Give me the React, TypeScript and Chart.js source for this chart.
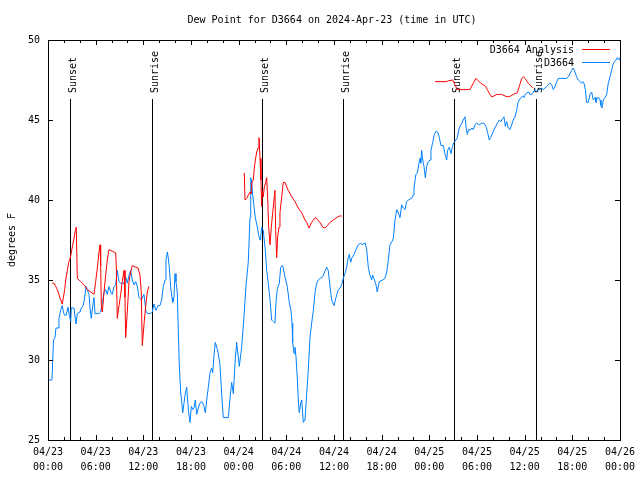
import React, { useEffect, useRef } from "react";
import { Chart, registerables } from "chart.js";

Chart.register(...registerables);

const chartTitle = "Dew Point for D3664 on 2024-Apr-23 (time in UTC)";
const yAxisTitle = "degrees F";
const seriesNames = ["D3664 Analysis", "D3664"];
const seriesColors = ["rgb(255,0,0)", "rgb(0,128,255)"];

// x in hours since 2024-04-23 00:00 UTC
const xTickDates = ["04/23", "04/23", "04/23", "04/23", "04/24", "04/24", "04/24", "04/24", "04/25", "04/25", "04/25", "04/25", "04/26"];
const xTickTimes = ["00:00", "06:00", "12:00", "18:00", "00:00", "06:00", "12:00", "18:00", "00:00", "06:00", "12:00", "18:00", "00:00"];

const sunHours = [2.81, 13.13, 26.98, 37.18, 51.15, 61.39];
const sunLabels = ["Sunset", "Sunrise", "Sunset", "Sunrise", "Sunset", "Sunrise"];

const obsHours = [0.0, 0.5, 0.69, 0.88, 1.0, 1.26, 1.38, 1.51, 1.67, 1.8, 1.93, 2.1, 2.3, 2.52, 2.68, 2.86, 2.93, 3.27, 3.52, 3.69, 4.03, 4.19, 4.44, 4.62, 4.78, 4.95, 5.16, 5.29, 5.45, 5.63, 5.79, 5.92, 6.0, 6.42, 6.63, 6.84, 7.05, 7.26, 7.46, 7.68, 7.89, 8.09, 8.31, 8.52, 8.72, 8.94, 9.15, 9.57, 9.78, 9.98, 10.2, 10.41, 10.61, 10.83, 11.04, 11.24, 11.46, 11.74, 12.08, 12.34, 12.59, 12.93, 13.13, 13.34, 13.6, 13.85, 14.1, 14.31, 14.51, 14.73, 14.85, 15.02, 15.14, 15.27, 15.45, 15.61, 15.7, 15.86, 15.99, 16.11, 16.28, 16.4, 16.53, 16.7, 16.83, 16.96, 17.12, 17.28, 17.46, 17.54, 17.71, 17.88, 18.04, 18.22, 18.38, 18.54, 18.72, 18.92, 19.13, 19.39, 19.64, 19.8, 19.98, 20.18, 20.39, 20.61, 20.73, 20.9, 21.06, 21.24, 21.44, 21.65, 21.87, 22.07, 22.7, 22.91, 23.12, 23.33, 23.54, 23.75, 24.08, 24.38, 24.67, 24.92, 25.21, 25.43, 25.52, 25.64, 25.77, 25.93, 26.1, 26.35, 26.52, 26.69, 26.78, 26.9, 27.1, 27.35, 27.53, 27.73, 27.95, 28.16, 28.36, 28.57, 28.7, 28.86, 29.12, 29.29, 29.54, 29.83, 30.12, 30.37, 30.59, 30.72, 30.8, 30.97, 31.09, 31.22, 31.38, 31.51, 31.63, 31.81, 31.94, 32.14, 32.35, 32.57, 32.77, 32.98, 33.19, 33.4, 33.61, 33.82, 34.02, 34.24, 34.58, 34.83, 35.08, 35.28, 35.5, 35.71, 36.0, 36.25, 36.54, 36.76, 36.97, 37.17, 37.39, 37.6, 37.8, 37.93, 38.1, 38.27, 38.52, 38.77, 39.06, 39.36, 39.53, 39.78, 39.94, 40.12, 40.32, 40.53, 40.75, 40.87, 41.04, 41.29, 41.45, 41.7, 42.13, 42.42, 42.64, 42.84, 43.05, 43.3, 43.47, 43.68, 43.9, 44.1, 44.31, 44.52, 44.73, 44.94, 45.15, 45.35, 45.78, 45.98, 46.07, 46.32, 46.49, 46.7, 46.83, 46.92, 47.04, 47.17, 47.33, 47.5, 47.67, 47.87, 48.09, 48.21, 48.43, 48.63, 48.84, 49.06, 49.26, 49.47, 49.76, 49.97, 50.19, 50.31, 50.52, 50.73, 50.94, 51.11, 51.36, 51.52, 51.77, 52.08, 52.28, 52.49, 52.62, 52.78, 52.96, 53.21, 53.37, 53.54, 53.75, 53.97, 54.29, 54.6, 54.88, 55.14, 55.35, 55.55, 55.73, 55.98, 56.27, 56.56, 56.81, 57.02, 57.24, 57.4, 57.57, 57.74, 57.94, 58.16, 58.37, 58.57, 58.79, 59.0, 59.16, 59.33, 59.54, 59.76, 59.92, 60.08, 60.26, 60.51, 60.67, 60.89, 61.09, 61.3, 61.52, 61.77, 61.93, 62.15, 62.35, 62.56, 62.78, 62.98, 63.19, 63.41, 63.61, 63.82, 64.04, 64.24, 65.29, 65.5, 65.71, 65.92, 66.13, 66.34, 66.55, 66.75, 66.97, 67.18, 67.31, 67.47, 67.64, 67.81, 68.01, 68.23, 68.44, 68.64, 68.86, 68.98, 69.15, 69.32, 69.49, 69.61, 69.74, 69.9, 70.12, 70.33, 70.53, 70.75, 70.96, 71.08, 71.25, 71.5, 71.67, 71.88, 72.0];
const obsValues = [28.75, 28.75, 31.25, 31.4, 32.0, 32.0, 32.6, 32.9, 33.25, 33.4, 33.0, 32.8, 32.8, 33.3, 32.8, 32.4, 33.25, 33.25, 32.25, 32.9, 33.0, 33.25, 33.4, 33.9, 34.6, 34.4, 34.1, 33.25, 32.6, 33.4, 33.9, 32.9, 32.9, 32.9, 33.0, 33.6, 34.2, 34.4, 34.1, 34.6, 34.25, 34.1, 34.6, 34.7, 35.6, 34.9, 34.8, 34.8, 35.2, 34.8, 35.3, 35.6, 35.0, 34.7, 34.9, 34.6, 33.9, 33.75, 34.1, 33.0, 32.9, 32.9, 33.0, 33.5, 33.1, 33.4, 33.4, 33.75, 34.6, 35.0, 36.25, 36.75, 36.4, 35.8, 34.5, 33.9, 33.6, 33.9, 35.4, 34.9, 34.2, 31.9, 29.7, 28.0, 27.4, 26.7, 27.3, 27.9, 28.3, 27.7, 26.7, 26.1, 27.1, 26.9, 27.0, 27.5, 26.6, 27.0, 27.3, 27.4, 27.1, 26.7, 27.5, 28.3, 29.2, 29.5, 29.2, 30.3, 31.1, 30.8, 30.4, 29.7, 27.8, 26.4, 26.4, 27.6, 28.6, 27.9, 29.8, 31.1, 29.6, 30.8, 32.7, 34.6, 36.1, 38.9, 41.4, 41.1, 40.3, 39.6, 38.9, 38.3, 37.8, 37.5, 37.7, 38.3, 38.1, 36.9, 35.6, 34.8, 33.75, 32.5, 32.4, 32.3, 33.6, 34.4, 34.8, 35.8, 35.9, 35.2, 34.6, 33.6, 33.1, 32.3, 31.1, 30.4, 30.8, 30.2, 28.9, 27.5, 26.7, 27.3, 27.5, 26.1, 26.25, 27.9, 29.4, 31.4, 32.3, 33.1, 34.2, 34.8, 35.0, 35.1, 35.2, 35.5, 35.8, 35.6, 34.6, 33.75, 33.4, 33.9, 34.4, 34.5, 34.7, 35.1, 35.4, 35.8, 36.4, 36.6, 36.1, 36.4, 36.6, 36.9, 37.2, 37.3, 37.2, 37.3, 37.3, 36.9, 35.8, 35.3, 35.0, 35.3, 35.1, 34.7, 34.25, 34.9, 35.0, 35.1, 35.5, 36.25, 37.2, 37.4, 37.6, 38.75, 39.4, 39.2, 38.9, 39.7, 39.5, 39.4, 39.9, 40.0, 40.1, 40.3, 40.75, 41.6, 41.7, 42.3, 42.6, 42.3, 43.1, 42.5, 42.1, 41.4, 42.1, 42.4, 42.5, 43.1, 43.6, 44.1, 44.3, 44.25, 43.9, 43.4, 43.4, 42.9, 42.5, 43.1, 43.3, 42.9, 43.4, 43.6, 43.75, 43.9, 44.5, 44.8, 45.0, 45.2, 44.6, 44.1, 44.4, 44.4, 44.5, 44.4, 44.7, 44.8, 44.7, 44.8, 44.8, 44.6, 44.2, 43.75, 43.9, 44.2, 44.5, 44.8, 45.0, 44.9, 45.1, 45.2, 44.6, 44.9, 44.5, 44.4, 44.7, 45.0, 45.2, 45.6, 46.1, 46.25, 46.4, 46.5, 46.4, 46.6, 46.7, 46.75, 46.6, 46.6, 46.75, 46.9, 46.8, 46.9, 46.9, 47.0, 46.9, 47.0, 47.1, 47.2, 47.3, 47.2, 46.9, 47.1, 47.4, 47.6, 47.6, 47.7, 47.9, 48.1, 48.25, 48.0, 47.7, 47.5, 47.4, 47.3, 47.4, 47.3, 46.9, 46.1, 46.1, 46.6, 46.75, 46.25, 46.4, 46.1, 46.4, 46.4, 46.25, 45.9, 45.75, 46.25, 46.4, 46.6, 47.3, 47.7, 48.1, 48.4, 48.6, 48.75, 48.9, 48.75, 48.9];

// analysis series; null marks a gap between the three runs
const anaHours = [0.54, 0.76, 0.97, 1.17, 1.38, 1.6, 1.8, 1.93, 2.1, 2.23, 2.43, 2.61, 2.77, 2.93, 3.11, 3.27, 3.44, 3.56, 3.69, 4.12, 4.53, 4.95, 5.38, 5.79, 6.0, 6.21, 6.42, 6.55, 6.63, 6.71, 6.84, 7.05, 7.26, 7.46, 7.68, 8.09, 8.52, 8.6, 8.72, 8.94, 9.15, 9.35, 9.57, 9.69, 9.78, 9.98, 10.2, 10.41, 10.61, 11.04, 11.33, 11.58, 11.74, 11.87, 12.08, 12.3, 12.5, 12.71,
  18.0,
  24.71, 24.8, 25.01, 25.21, 25.43, 25.55, 25.68, 25.84, 25.97, 26.1, 26.27, 26.44, 26.56, 26.69, 26.81, 26.9, 26.98, 27.1, 27.23, 27.4, 27.53, 27.66, 27.78, 27.95, 28.11, 28.29, 28.45, 28.57, 28.66, 28.79, 28.91, 29.08, 29.2, 29.42, 29.62, 29.83, 30.25, 30.68, 31.09, 31.51, 31.94, 32.35, 32.57, 32.86, 33.19, 33.61, 33.9, 34.24, 34.58, 34.87, 35.16, 35.5, 35.91, 36.34, 36.67, 36.97,
  42.0,
  48.72, 50.19, 50.39, 50.94, 51.23, 51.52, 53.12, 53.54, 53.88, 54.17, 54.47, 54.8, 55.1, 55.3, 55.64, 55.85, 56.14, 56.48, 56.81, 57.11, 57.53, 57.94, 58.24, 58.57, 59.08, 59.33, 59.63, 59.83, 60.05, 60.26, 60.46, 60.67, 60.89, 61.01];
const anaValues = [34.8, 34.8, 34.6, 34.4, 34.1, 33.75, 33.5, 33.9, 34.4, 35.0, 35.6, 36.1, 36.3, 36.7, 37.2, 37.6, 38.1, 38.3, 35.1, 34.9, 34.7, 34.4, 34.25, 34.1, 34.9, 35.75, 36.75, 37.2, 35.9, 33.4, 33.0, 34.25, 35.3, 36.25, 36.9, 36.8, 36.7, 35.75, 32.6, 33.4, 34.1, 34.9, 35.6, 33.9, 31.4, 33.0, 34.9, 35.5, 35.9, 35.8, 35.75, 35.3, 34.25, 30.9, 32.2, 33.4, 34.25, 34.6,
  null,
  41.7, 40.0, 40.1, 40.3, 40.5, 40.4, 41.1, 41.25, 42.0, 42.5, 43.0, 43.25, 43.9, 42.6, 41.25, 39.6, 40.6, 40.2, 40.8, 41.1, 41.4, 40.0, 38.3, 37.2, 38.3, 39.2, 40.0, 40.6, 38.1, 36.4, 37.7, 38.3, 39.2, 40.2, 41.1, 41.1, 40.6, 40.2, 39.9, 39.5, 39.2, 38.75, 38.6, 38.25, 38.6, 38.9, 38.8, 38.6, 38.3, 38.25, 38.4, 38.6, 38.75, 38.9, 39.0, 39.0,
  null,
  47.4, 47.4, 47.45, 47.5, 47.2, 46.9, 46.9, 47.3, 47.6, 47.45, 47.3, 47.2, 47.1, 46.9, 46.6, 46.45, 46.5, 46.6, 46.6, 46.6, 46.5, 46.45, 46.5, 46.6, 46.7, 47.1, 47.6, 47.7, 47.6, 47.45, 47.3, 47.2, 47.1, 47.0];

const X_MIN = 0;
const X_MAX = 72;
const Y_MIN = 25;
const Y_MAX = 50;

const FONT = '10px "DejaVu Sans Mono", "Liberation Mono", monospace';

const decorPlugin = {
  id: "decor",
  beforeDatasetsDraw(chart: any) {
    const { ctx, chartArea, scales } = chart;
    const x = scales.x;
    ctx.save();
    ctx.strokeStyle = "#000";
    ctx.lineWidth = 1;
    ctx.fillStyle = "#000";
    ctx.font = FONT;
    sunHours.forEach((h, i) => {
      const px = Math.round(x.getPixelForValue(h)) + 0.5;
      ctx.beginPath();
      ctx.moveTo(px, chartArea.top + 59);
      ctx.lineTo(px, chartArea.bottom);
      ctx.stroke();
      ctx.save();
      ctx.translate(px + 5, chartArea.top + 53);
      ctx.rotate(-Math.PI / 2);
      ctx.textAlign = "left";
      ctx.textBaseline = "alphabetic";
      ctx.fillText(sunLabels[i], 0, 0);
      ctx.restore();
    });
    ctx.restore();
  },
  afterDraw(chart: any) {
    const { ctx, chartArea, scales } = chart;
    const { left, right, top, bottom } = chartArea;
    const x = scales.x;
    const y = scales.y;
    ctx.save();
    ctx.strokeStyle = "#000";
    ctx.fillStyle = "#000";
    ctx.lineWidth = 1;
    ctx.font = FONT;

    // ticks (inward, mirrored)
    ctx.beginPath();
    for (let h = X_MIN; h <= X_MAX; h += 2) {
      const px = Math.round(x.getPixelForValue(h)) + 0.5;
      const len = h % 6 === 0 ? 5 : 3;
      ctx.moveTo(px, bottom);
      ctx.lineTo(px, bottom - len);
      ctx.moveTo(px, top);
      ctx.lineTo(px, top + len);
    }
    for (let v = Y_MIN; v <= Y_MAX; v += 5) {
      const py = Math.round(y.getPixelForValue(v)) + 0.5;
      ctx.moveTo(left, py);
      ctx.lineTo(left + 5, py);
      ctx.moveTo(right, py);
      ctx.lineTo(right - 5, py);
    }
    ctx.stroke();

    // border
    ctx.strokeRect(Math.round(left) + 0.5, Math.round(top) + 0.5, Math.round(right - left), Math.round(bottom - top));

    // title
    ctx.textAlign = "center";
    ctx.textBaseline = "middle";
    ctx.fillText(chartTitle, 332, 20);

    // y title
    ctx.save();
    ctx.translate(12, (top + bottom) / 2);
    ctx.rotate(-Math.PI / 2);
    ctx.fillText(yAxisTitle, 0, 0);
    ctx.restore();

    // legend
    ctx.textAlign = "right";
    ctx.textBaseline = "middle";
    seriesNames.forEach((name, i) => {
      const ly = top + 10 + i * 13;
      ctx.fillStyle = "#000";
      ctx.fillText(name, 574, ly);
      ctx.strokeStyle = seriesColors[i];
      ctx.beginPath();
      ctx.moveTo(582, Math.round(ly) - 0.5);
      ctx.lineTo(610, Math.round(ly) - 0.5);
      ctx.stroke();
    });
    ctx.restore();
  },
};

export default function App() {
  const canvasRef = useRef<HTMLCanvasElement | null>(null);

  useEffect(() => {
    const canvas = canvasRef.current;
    if (!canvas) return;
    const obsData = obsHours.map((h, i) => ({ x: h, y: obsValues[i] }));
    const anaData = anaHours.map((h, i) => ({ x: h, y: anaValues[i] }));
    const chart = new Chart(canvas, {
      type: "line",
      data: {
        datasets: [
          {
            label: seriesNames[0],
            data: anaData as any,
            borderColor: seriesColors[0],
            borderWidth: 1,
            pointRadius: 0,
            tension: 0,
            spanGaps: false,
            fill: false,
          },
          {
            label: seriesNames[1],
            data: obsData as any,
            borderColor: seriesColors[1],
            borderWidth: 1,
            pointRadius: 0,
            tension: 0,
            fill: false,
          },
        ],
      },
      options: {
        animation: false,
        responsive: false,
        devicePixelRatio: 1,
        layout: { padding: { top: 40, right: 20, left: 0, bottom: 0 } },
        plugins: {
          legend: { display: false },
          title: { display: false },
          tooltip: { enabled: false },
        },
        scales: {
          x: {
            type: "linear",
            min: X_MIN,
            max: X_MAX,
            grid: { display: false, drawTicks: false },
            border: { display: false },
            ticks: {
              stepSize: 6,
              autoSkip: false,
              maxRotation: 0,
              padding: 5,
              color: "#000",
              font: { family: '"DejaVu Sans Mono", "Liberation Mono", monospace', size: 10, lineHeight: 1.5 },
              callback: (_v: any, i: number) => [xTickDates[i], xTickTimes[i]],
            },
            afterFit: (s: any) => {
              s.height = 40;
            },
          },
          y: {
            min: Y_MIN,
            max: Y_MAX,
            grid: { display: false, drawTicks: false },
            border: { display: false },
            ticks: {
              stepSize: 5,
              padding: 8,
              color: "#000",
              font: { family: '"DejaVu Sans Mono", "Liberation Mono", monospace', size: 10 },
            },
            afterFit: (s: any) => {
              s.width = 48;
            },
          },
        },
      },
      plugins: [decorPlugin],
    });
    return () => chart.destroy();
  }, []);

  return (
    <div style={{ position: "absolute", left: 0, top: 0, width: 640, height: 480, background: "#fff" }}>
      <canvas ref={canvasRef} width={640} height={480} />
    </div>
  );
}
